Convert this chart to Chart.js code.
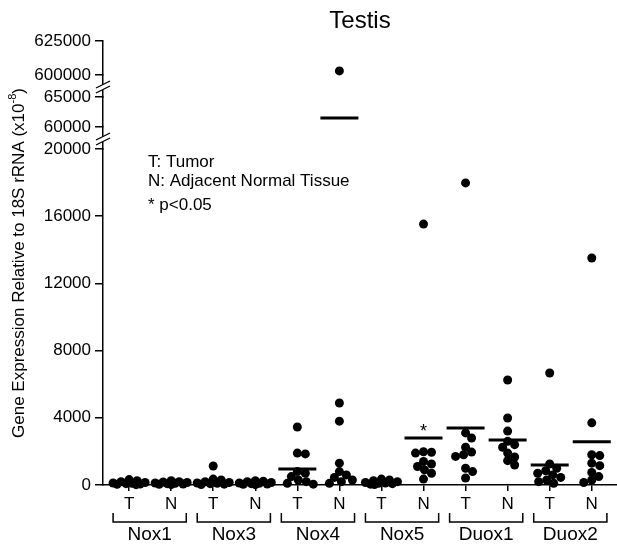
<!DOCTYPE html>
<html><head><meta charset="utf-8">
<script src="https://cdn.jsdelivr.net/npm/chart.js@4/dist/chart.umd.min.js"></script>
<style>html,body{margin:0;padding:0;background:#fff}#wrap{width:617px;height:545px}</style>
</head><body><div id="wrap"><canvas id="c" width="617" height="545"></canvas></div>
<script>
// ---------- data ----------
const genes = ['Nox1','Nox3','Nox4','Nox5','Duox1','Duox2'];
const groupLabels = ['T','N'];
const nox1T  = [320, 250, 200, 150, 120, 100, 80, 60, 40, 20];
const nox1N  = [250, 200, 180, 150, 120, 100, 80, 60, 40, 20];
const nox3T  = [1130, 350, 300, 200, 150, 120, 100, 80, 50, 30];
const nox3N  = [250, 220, 200, 150, 120, 100, 80, 60, 40, 20];
const nox4T  = [3450, 1900, 1850, 800, 700, 500, 300, 200, 100, 50];
const nox4N  = [603000, 4880, 3800, 1300, 800, 600, 450, 300, 200, 100];
const nox5T  = [350, 300, 250, 200, 150, 120, 100, 80, 50, 30];
const nox5N  = [15530, 1980, 1950, 1900, 1400, 1250, 1100, 900, 700, 350];
const duox1T = [17980, 3100, 2800, 2250, 1960, 1800, 1700, 1000, 800, 420];
const duox1N = [6250, 3990, 3210, 2600, 2400, 2250, 1900, 1670, 1450, 1190];
const duox2T = [6670, 1250, 1000, 850, 700, 600, 450, 300, 200, 100];
const duox2N = [13510, 3700, 1800, 1750, 1300, 1150, 750, 500, 300, 150];
const groupSeries = [nox1T, nox1N, nox3T, nox3N, nox4T, nox4N, nox5T, nox5N, duox1T, duox1N, duox2T, duox2N];
const groupMeans  = [130, 120, 230, 120, 950, 61500, 180, 2800, 3390, 2680, 1190, 2580];
const significant = [7];           // Nox5 N, p<0.05
const lowTicks  = [0, 4000, 8000, 12000, 16000, 20000];
const midTicks  = [60000, 65000];
const highTicks = [600000, 625000];
const lowRange  = [0, 20000];
const midRange  = [60000, 65000];
const highRange = [600000, 625000];
const legendLines = ['T: Tumor', 'N: Adjacent Normal Tissue', '* p<0.05'];

// ---------- build datasets ----------
function segmentOf(v){
  if (v >= highRange[0]) return 'yHigh';
  if (v >= midRange[0]) return 'yMid';
  return 'yLow';
}
const pts = {yLow:[], yMid:[], yHigh:[]};
const means = {yLow:[], yMid:[], yHigh:[]};
groupSeries.forEach((arr, i) => {
  arr.forEach(v => pts[segmentOf(v)].push({x:i, y:v, g:i}));
  const m = groupMeans[i];
  means[segmentOf(m)].push({x:i, y:m});
});

const FONT = '"Liberation Sans", Arial, Helvetica, sans-serif';
Chart.defaults.font.family = FONT;
Chart.defaults.color = '#000';

function pointDS(axis){
  return {data: pts[axis], yAxisID: axis, pointRadius: 4.5, pointHoverRadius: 4.5,
    pointBackgroundColor:'#000', pointBorderColor:'#000', pointBorderWidth:0, showLine:false, clip:false};
}
function meanDS(axis){
  return {data: means[axis], yAxisID: axis, pointStyle:'line', pointRadius: 19, pointHoverRadius:19,
    pointBorderColor:'#000', pointBorderWidth:3, pointBackgroundColor:'#000', showLine:false, clip:false};
}

function yAxis(range, ticks, weight){
  return {
    type:'linear', position:'left', stack:'y', stackWeight: weight, min: range[0], max: range[1],
    afterBuildTicks: s => { s.ticks = ticks.map(v => ({value:v})); },
    afterFit: s => { s.width = 103; },
    ticks:{ color:'#000', font:{size:17}, padding:4, autoSkip:false, callback: v => String(v) },
    grid:{ display:true, drawOnChartArea:false, drawTicks:true, tickLength:8, color:'#000', lineWidth:1.5 },
    border:{ display:true, color:'#000', width:1.5 }
  };
}
function gapAxis(weight){
  return {
    type:'linear', position:'left', stack:'y', stackWeight: weight, min:0, max:1,
    afterFit: s => { s.width = 103; },
    ticks:{ display:false }, grid:{ display:false },
    border:{ display:true, color:'#000', width:1.5 }
  };
}

const decor = {
  id:'decor',
  afterDraw(chart){
    const ctx = chart.ctx, xs = chart.scales.x, ca = chart.chartArea;
    ctx.save();
    ctx.fillStyle = '#000'; ctx.strokeStyle = '#000';
    // axis breaks
    ['gap1','gap2'].forEach(id => {
      const s = chart.scales[id];
      const x = ca.left, y = s.top + 9;
      ctx.fillStyle = '#fff';
      ctx.beginPath();
      ctx.moveTo(x-7, y+4); ctx.lineTo(x+7, y-3); ctx.lineTo(x+7, y+2); ctx.lineTo(x-7, y+9); ctx.closePath();
      ctx.fill();
      ctx.strokeStyle = '#000'; ctx.lineWidth = 1.3;
      ctx.beginPath(); ctx.moveTo(x-7, y+4); ctx.lineTo(x+7, y-3); ctx.stroke();
      ctx.beginPath(); ctx.moveTo(x-7, y+9); ctx.lineTo(x+7, y+2); ctx.stroke();
      ctx.fillStyle = '#000';
    });
    // brackets and gene labels
    ctx.lineWidth = 1.5;
    genes.forEach((g, k) => {
      const x1 = xs.getPixelForValue(2*k - 0.38), x2 = xs.getPixelForValue(2*k + 1.36);
      const yb = ca.bottom + 37, yt = ca.bottom + 28;
      ctx.beginPath(); ctx.moveTo(x1, yt); ctx.lineTo(x1, yb); ctx.lineTo(x2, yb); ctx.lineTo(x2, yt); ctx.stroke();
      ctx.font = '19px ' + FONT; ctx.textAlign = 'center'; ctx.textBaseline = 'middle';
      ctx.fillText(g, (x1 + x2) / 2, ca.bottom + 50);
    });
    // significance asterisk
    significant.forEach(i => {
      const m = groupMeans[i];
      const ys = chart.scales[segmentOf(m)];
      ctx.font = '18px ' + FONT; ctx.textAlign = 'center'; ctx.textBaseline = 'alphabetic';
      ctx.fillText('*', xs.getPixelForValue(i), ys.getPixelForValue(m) - 1);
    });
    // legend text
    ctx.font = '17px ' + FONT; ctx.textAlign = 'left'; ctx.textBaseline = 'middle';
    ctx.fillText(legendLines[0], 148, 162);
    ctx.fillText(legendLines[1], 148, 181);
    ctx.fillText(legendLines[2], 148, 205);
    // y title (rotated)
    ctx.translate(19, (ca.top + ca.bottom) / 2);
    ctx.rotate(-Math.PI / 2);
    const main = 'Gene Expression Relative to 18S rRNA (x10';
    const sup = '-8', close = ')';
    ctx.font = '17px ' + FONT;
    const wMain = ctx.measureText(main).width, wClose = ctx.measureText(close).width;
    ctx.font = '11px ' + FONT;
    const wSup = ctx.measureText(sup).width;
    const total = wMain + wSup + wClose;
    let x0 = -total / 2;
    ctx.textAlign = 'left'; ctx.textBaseline = 'middle';
    ctx.font = '17px ' + FONT; ctx.fillText(main, x0, 0);
    ctx.font = '11px ' + FONT; ctx.fillText(sup, x0 + wMain, -6);
    ctx.font = '17px ' + FONT; ctx.fillText(close, x0 + wMain + wSup, 0);
    ctx.restore();
  }
};

const chart = new Chart(document.getElementById('c'), {
  type:'scatter',
  data:{ datasets:[ pointDS('yLow'), pointDS('yHigh'), meanDS('yLow'), meanDS('yMid') ] },
  options:{
    responsive:false, animation:false, events:[],
    layout:{ autoPadding:false, padding:{ left:0, right:0, top:0, bottom:0 } },
    plugins:{
      legend:{ display:false }, tooltip:{ enabled:false },
      title:{ display:true, text:'Testis', fullSize:false, color:'#000',
        font:{ size:24, weight:'normal' }, padding:{ top:7, bottom:5.2 } }
    },
    scales:{
      x:{
        type:'linear', min:-0.62, max:11.6,
        afterBuildTicks: s => { s.ticks = groupSeries.map((_, i) => ({value:i})); },
        afterFit: s => { s.height = 60; s.paddingRight = 0; s.paddingLeft = 0; },
        ticks:{ color:'#000', font:{size:17}, padding:3, maxRotation:0, autoSkip:false,
          callback: v => groupLabels[v % 2] },
        grid:{ display:true, drawOnChartArea:false, drawTicks:true, tickLength:6, color:'#000', lineWidth:1.5 },
        border:{ display:true, color:'#000', width:1.5 }
      },
      yLow: yAxis(lowRange, lowTicks, 336),
      gap2: gapAxis(22),
      yMid: yAxis(midRange, midTicks, 30),
      gap1: gapAxis(22),
      yHigh: yAxis(highRange, highTicks, 34)
    }
  },
  plugins:[decor]
});

// ---------- deterministic beeswarm spreading of dots ----------
(function swarm(){
  const xs = chart.scales.x;
  const ppu = xs.getPixelForValue(1) - xs.getPixelForValue(0);
  const minD = 7.5, maxOff = 16;
  groupSeries.forEach((_, i) => {
    const items = [];
    ['yLow','yHigh'].forEach(ax => {
      const s = chart.scales[ax];
      pts[ax].forEach(p => { if (p.g === i) items.push({p, py: s.getPixelForValue(p.y)}); });
    });
    items.sort((a, b) => a.py - b.py);
    const placed = [];
    items.forEach(it => {
      let best = 0, bestScore = -1;
      for (let k = 0; k <= 2*maxOff; k++) {
        const off = (k % 2 ? 1 : -1) * Math.ceil(k / 2);
        let md = Infinity;
        placed.forEach(q => { const d = Math.hypot(q.ox - off, q.py - it.py); if (d < md) md = d; });
        if (md >= minD) { best = off; bestScore = Infinity; break; }
        if (md > bestScore) { bestScore = md; best = off; }
      }
      placed.push({ox: best, py: it.py});
      it.p.x = i + best / ppu;
    });
  });
  chart.update('none');
})();
</script>
</body></html>
